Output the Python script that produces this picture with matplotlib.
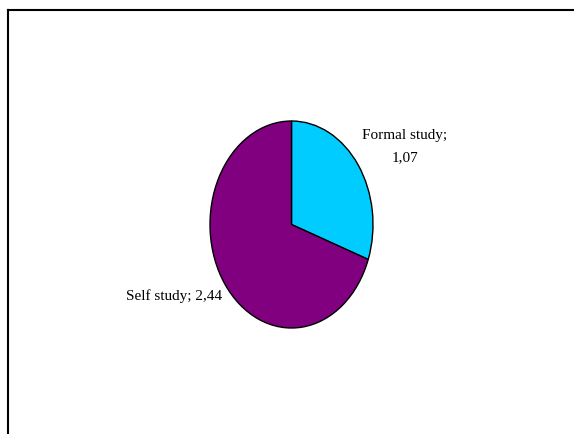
import matplotlib.pyplot as plt
from matplotlib.lines import Line2D

# Data
labels = ['Formal study', 'Self study']
values = [1.07, 2.44]
value_text = ['1,07', '2,44']
colors = ['#00CCFF', '#800080']

W, H = 574, 434
fig = plt.figure(figsize=(W / 100, H / 100), dpi=100)
fig.patch.set_facecolor('white')

# Pie axes (stretched so the pie is an ellipse like the original)
cx, cy, rx, ry = 291.5, 224.5, 81.5, 103.5
ax = fig.add_axes([(cx - rx) / W, (H - cy - ry) / H, 2 * rx / W, 2 * ry / H])
ax.pie(values, colors=colors, startangle=90, counterclock=False,
       wedgeprops=dict(edgecolor='black', linewidth=1.0))
ax.set_xlim(-1, 1)
ax.set_ylim(-1, 1)
ax.set_aspect('auto')
ax.axis('off')

font = dict(family='Liberation Serif', size=11, color='black')
ax.text(1.39, 0.755, f'{labels[0]};\n{value_text[0]}', ha='center', va='center',
        linespacing=1.95, clip_on=False, **font)
ax.text(-0.855, -0.69, f'{labels[1]}; {value_text[1]}', ha='right', va='center',
        clip_on=False, **font)

# Chart frame (only left and top edges visible in the image)
x0, y0 = 7.5 / W, 1 - 10 / H
fig.add_artist(Line2D([x0, x0], [y0, -0.05], color='black', lw=1.5,
                      transform=fig.transFigure))
fig.add_artist(Line2D([x0, 1.05], [y0, y0], color='black', lw=1.5,
                      transform=fig.transFigure))

fig.savefig('out.png', dpi=100)
